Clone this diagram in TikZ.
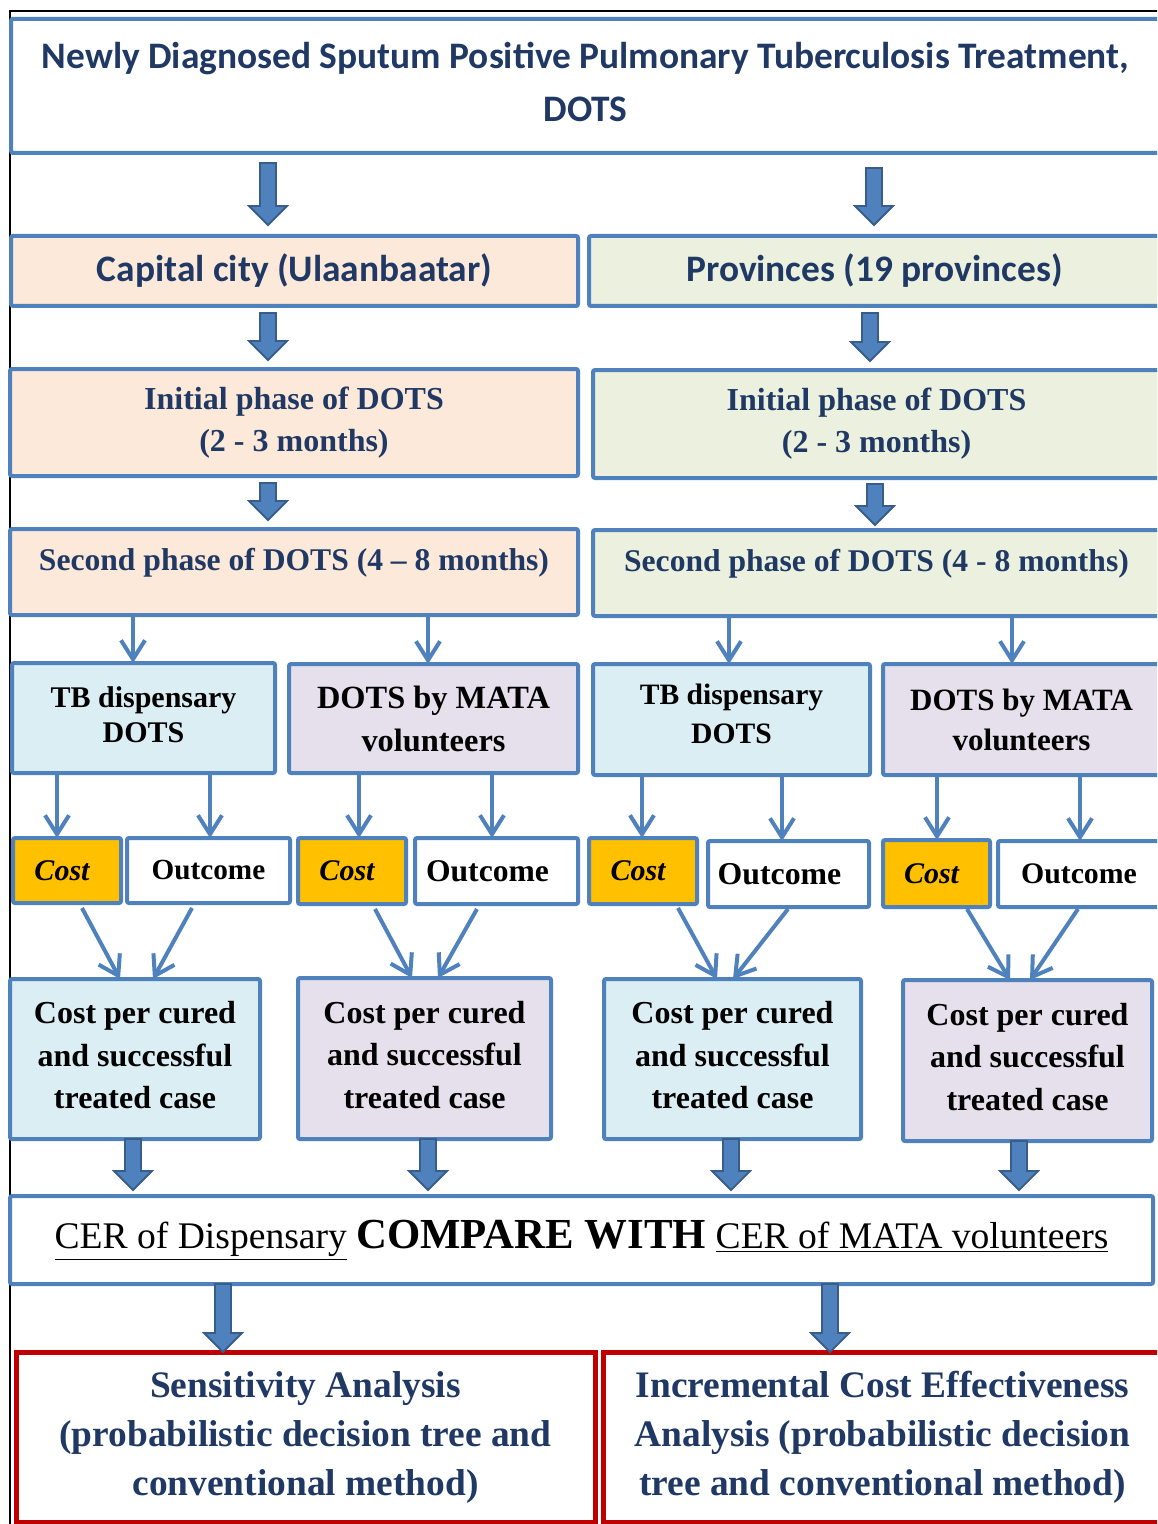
\documentclass[tikz,border=0pt]{standalone}
\usepackage{fontspec}
\setmainfont{Liberation Serif}
\newfontfamily\calibfont{Carlito}
\usetikzlibrary{arrows.meta,calc}
\definecolor{bblue}{HTML}{4F81BD}
\definecolor{bdark}{HTML}{385D8A}
\definecolor{tblue}{HTML}{1F3864}
\definecolor{peach}{HTML}{FDE9D9}
\definecolor{sage}{HTML}{EBF1DE}
\definecolor{ice}{HTML}{DBEEF3}
\definecolor{lilac}{HTML}{E5E0EC}
\definecolor{gold}{HTML}{FFC000}
\definecolor{crimson}{HTML}{C00000}
% box node #1 with style #2 spanning corners (#3,#4)-(#5,#6), text #7
\newcommand\bx[7]{%
  \pgfmathsetmacro\bxw{(#5-#3)*0.5}\pgfmathsetmacro\bxh{(#6-#4)*0.5}%
  \node[#2,minimum width=\bxw pt,minimum height=\bxh pt] (#1) at ({(#3+#5)/2},{(#4+#6)/2}) {#7};}
% block arrow between two nodes at horizontal position #3, gaps #4/#5
\newcommand\barrow[5]{%
  \draw[barrowst] let \p1=(#1.south), \p2=(#2.north), \p3=(#3,0) in
    (\x3-4pt,\y1-#4*0.5pt) -- (\x3+4pt,\y1-#4*0.5pt) -- (\x3+4pt,\y2+#5*0.5pt+9.5pt)
    -- (\x3+9.5pt,\y2+#5*0.5pt+9.5pt) -- (\x3,\y2+#5*0.5pt)
    -- (\x3-9.5pt,\y2+#5*0.5pt+9.5pt) -- (\x3-4pt,\y2+#5*0.5pt+9.5pt) -- cycle;}
\begin{document}
\begin{tikzpicture}[x=0.5pt,y=-0.5pt,
  box/.style={draw=bblue,line width=2pt,rounded corners=1pt,inner sep=0pt,outer sep=0pt,align=center},
  redbox/.style={box,draw=crimson,line width=2.5pt,rounded corners=0pt},
  calib/.style={font=\calibfont\bfseries\fontsize{18.7}{26.5}\selectfont,text=tblue},
  phase/.style={font=\bfseries\fontsize{16}{21}\selectfont,text=tblue},
  phasewide/.style={font=\bfseries\fontsize{15.8}{21}\selectfont,text=tblue,text depth=13pt},
  costtxt/.style={font=\bfseries\itshape\fontsize{15}{18}\selectfont},
  outtxt/.style={font=\bfseries\fontsize{#1}{18}\selectfont},
  cpc/.style={font=\bfseries\fontsize{16}{21.25}\selectfont,text depth=4pt},
  final/.style={font=\bfseries\fontsize{18.7}{24.5}\selectfont,text=tblue},
  tarrow/.style={draw=bblue,line width=2pt,-{Straight Barb[length=9.5pt,width=12pt]}},
  barrowst/.style={draw=bdark,fill=bblue,line width=0.9pt,line join=miter}]
\useasboundingbox (0,0) rectangle (1157,1524);
\clip (0,0) rectangle (1157,1524);

% outer frame
\draw[black,line width=1pt] (10,1530) -- (10,11) -- (1170,11);

% title and regions
\bx{title}{box,fill=white,calib,text depth=4.5pt}{11}{19}{1160}{153}
  {Newly Diagnosed Sputum Positive Pulmonary Tuberculosis Treatment,\\DOTS}
\bx{capital}{box,fill=peach,calib}{11}{236}{578}{306}{Capital city (Ulaanbaatar)}
\bx{prov}{box,fill=sage,calib}{589}{236}{1160}{306}{Provinces (19 provinces)}

% treatment phases
\bx{init1}{box,fill=peach,phase}{10}{369}{578}{476}{Initial phase of DOTS\\(2 - 3 months)}
\bx{init2}{box,fill=sage,phase}{593}{370}{1160}{478}{Initial phase of DOTS\\(2 - 3 months)}
\bx{sec1}{box,fill=peach,phasewide}{10}{529}{578}{615}{Second phase of DOTS (4 -- 8 months)}
\bx{sec2}{box,fill=sage,phasewide}{593}{530}{1160}{616}{Second phase of DOTS (4 - 8 months)}

% delivery arms
\bx{tb1}{box,fill=ice,font=\bfseries\fontsize{15}{17.5}\selectfont,text depth=3.5pt}{12}{663}{275}{773}{TB dispensary\\DOTS}
\bx{mata1}{box,fill=lilac,font=\bfseries\fontsize{16.2}{21.5}\selectfont}{289}{664}{578}{773}{DOTS by MATA\\volunteers}
\bx{tb2}{box,fill=ice,font=\bfseries\fontsize{14.8}{19.5}\selectfont,text depth=6pt}{593}{664}{870}{775}{TB dispensary\\DOTS}
\bx{mata2}{box,fill=lilac,font=\bfseries\fontsize{15.5}{20}\selectfont}{883}{664}{1160}{775}{DOTS by MATA\\volunteers}

% cost and outcome
\bx{cost1}{box,fill=gold,costtxt}{13}{838}{121}{903}{Cost\hspace{5pt}}
\bx{out1}{box,fill=white,outtxt=14.6}{127}{838}{290}{903}{Outcome}
\bx{cost2}{box,fill=gold,costtxt}{298}{838}{406}{904}{Cost\hspace{5pt}}
\bx{out2}{box,fill=white,outtxt=15.8}{415}{838}{578}{904}{Outcome\hspace{9pt}}
\bx{cost3}{box,fill=gold,costtxt}{589}{838}{697}{904}{Cost\hspace{5pt}}
\bx{out3}{box,fill=white,outtxt=15.9}{708}{841}{869}{907}{Outcome\hspace{9pt}}
\bx{cost4}{box,fill=gold,costtxt}{883}{840}{990}{907}{Cost\hspace{5pt}}
\bx{out4}{box,fill=white,outtxt=14.9}{998}{841}{1160}{907}{Outcome}

% cost per case
\bx{cpc1}{box,fill=ice,cpc}{10}{979}{260}{1139}{Cost per cured\\and successful\\treated case}
\bx{cpc2}{box,fill=lilac,cpc}{298}{978}{551}{1139}{Cost per cured\\and successful\\treated case}
\bx{cpc3}{box,fill=ice,cpc}{604}{979}{861}{1139}{Cost per cured\\and successful\\treated case}
\bx{cpc4}{box,fill=lilac,cpc}{903}{980}{1152}{1141}{Cost per cured\\and successful\\treated case}

% comparison
\bx{cer}{box,fill=white,font=\fontsize{18.8}{22}\selectfont}{10}{1196}{1153}{1284}
  {\underline{CER of Dispensary} {\bfseries\fontsize{21.4}{22}\selectfont COMPARE WITH} \underline{CER of MATA volunteers}}

% analyses
\bx{sens}{redbox,fill=white,final}{16}{1352}{595}{1522}
  {Sensitivity Analysis\\(probabilistic decision tree and\\conventional method)}
\bx{icea}{redbox,fill=white,final}{603}{1352}{1162}{1522}
  {Incremental Cost Effectiveness\\Analysis (probabilistic decision\\tree and conventional method)}

% block arrows
\barrow{title}{capital}{268}{10}{11}
\barrow{title}{prov}{874}{15}{11}
\barrow{capital}{init1}{268}{7}{9}
\barrow{prov}{init2}{870}{7}{9}
\barrow{init1}{sec1}{268}{7}{9}
\barrow{init2}{sec2}{875}{6}{5}
\barrow{cpc1}{cer}{133}{0}{6}
\barrow{cpc2}{cer}{428}{0}{6}
\barrow{cpc3}{cer}{731}{0}{6}
\barrow{cpc4}{cer}{1019}{0}{6}
\barrow{cer}{sens}{223}{0}{0}
\barrow{cer}{icea}{830}{0}{0}

% phase to arms
\draw[tarrow] (sec1.south -| 133,0) -- (tb1.north -| 133,0);
\draw[tarrow] (sec1.south -| 428,0) -- (mata1.north -| 428,0);
\draw[tarrow] (sec2.south -| 729,0) -- (tb2.north -| 729,0);
\draw[tarrow] (sec2.south -| 1012,0) -- (mata2.north -| 1012,0);

% arms to cost and outcome
\draw[tarrow] (tb1.south -| 57,0) -- (cost1.north -| 57,0);
\draw[tarrow] (tb1.south -| 210,0) -- (out1.north -| 210,0);
\draw[tarrow] (mata1.south -| 359,0) -- (cost2.north -| 359,0);
\draw[tarrow] (mata1.south -| 492,0) -- (out2.north -| 492,0);
\draw[tarrow] (tb2.south -| 642,0) -- (cost3.north -| 642,0);
\draw[tarrow] (tb2.south -| 782,0) -- (out3.north -| 782,0);
\draw[tarrow] (mata2.south -| 937,0) -- (cost4.north -| 937,0);
\draw[tarrow] (mata2.south -| 1080,0) -- (out4.north -| 1080,0);

% cost and outcome to cost per case
\draw[tarrow] ([yshift=-2.5pt]cost1.south -| 82,0) -- (cpc1.north -| 120,0);
\draw[tarrow] ([yshift=-2.5pt]out1.south -| 192,0) -- (cpc1.north -| 153,0);
\draw[tarrow] ([yshift=-2.5pt]cost2.south -| 375,0) -- (cpc2.north -| 412,0);
\draw[tarrow] ([yshift=-2.5pt]out2.south -| 477,0) -- (cpc2.north -| 438,0);
\draw[tarrow] ([yshift=-2pt]cost3.south -| 678,0) -- (cpc3.north -| 717,0);
\draw[tarrow] ([yshift=-1pt]out3.south -| 788,0) -- (cpc3.north -| 733,0);
\draw[tarrow] ([yshift=-1pt]cost4.south -| 967,0) -- (cpc4.north -| 1010,0);
\draw[tarrow] ([yshift=-1pt]out4.south -| 1078,0) -- (cpc4.north -| 1030,0);
\end{tikzpicture}
\end{document}
